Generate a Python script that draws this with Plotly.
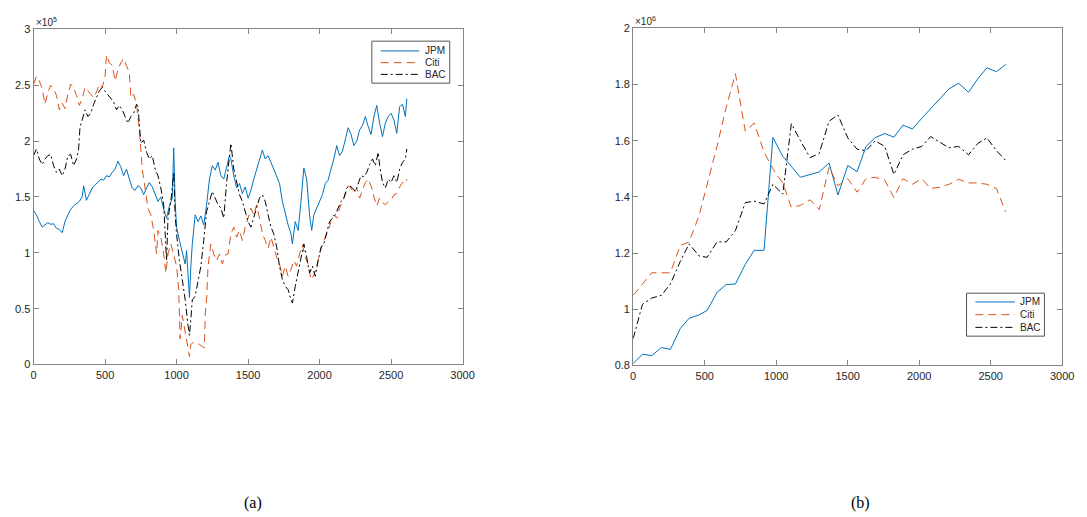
import plotly.graph_objects as go

# ---------------- Panel (a): daily values (x 1e5) ----------------
jpm_a_day = [0, 20, 40, 60, 80, 100, 120, 140, 160, 180, 200, 220, 240, 260, 280, 300, 320, 340, 350, 370,
             390, 410, 430, 450, 470, 490, 510, 530, 550, 570, 590, 610, 630, 650, 670, 690, 710, 730, 750, 770,
             790, 810, 830, 850, 870, 890, 910, 930, 950, 970, 980, 990, 1000, 1020, 1040, 1060, 1070, 1080, 1090, 1100,
             1110, 1130, 1150, 1170, 1190, 1210, 1230, 1250, 1270, 1290, 1310, 1330, 1350, 1370, 1380, 1400, 1420, 1440, 1460, 1480,
             1500, 1520, 1540, 1560, 1580, 1600, 1620, 1640, 1660, 1680, 1700, 1720, 1740, 1760, 1780, 1800, 1810, 1830, 1850, 1870,
             1890, 1910, 1930, 1945, 1960, 1980, 2000, 2020, 2040, 2060, 2080, 2100, 2120, 2140, 2160, 2180, 2200, 2220, 2240, 2260,
             2280, 2300, 2320, 2340, 2360, 2380, 2400, 2420, 2440, 2460, 2480, 2500, 2520, 2540, 2560, 2580, 2600, 2610]
jpm_a_val = [1.38, 1.34, 1.28, 1.23, 1.25, 1.27, 1.255, 1.26, 1.22, 1.21, 1.18, 1.28, 1.34, 1.39, 1.42, 1.44, 1.46, 1.50, 1.60, 1.47,
             1.53, 1.58, 1.61, 1.63, 1.66, 1.65, 1.69, 1.68, 1.72, 1.75, 1.82, 1.77, 1.69, 1.75, 1.66, 1.58, 1.56, 1.60, 1.58, 1.52,
             1.58, 1.63, 1.59, 1.52, 1.46, 1.50, 1.39, 1.31, 1.42, 1.49, 1.94, 1.46, 1.23, 1.11, 0.99, 0.90, 1.02, 0.82, 0.60, 0.88,
             1.08, 1.34, 1.28, 1.33, 1.25, 1.43, 1.66, 1.78, 1.74, 1.81, 1.69, 1.66, 1.78, 1.87, 1.84, 1.69, 1.58, 1.62, 1.53, 1.59,
             1.49, 1.56, 1.66, 1.75, 1.84, 1.92, 1.84, 1.87, 1.81, 1.75, 1.69, 1.62, 1.46, 1.34, 1.25, 1.17, 1.08, 1.28, 1.20, 1.46,
             1.76, 1.66, 1.34, 1.20, 1.34, 1.40, 1.46, 1.52, 1.62, 1.65, 1.75, 1.84, 1.96, 1.87, 1.91, 2.01, 2.12, 2.06, 1.96, 2.00,
             2.10, 2.14, 2.22, 2.13, 2.06, 2.22, 2.32, 2.16, 2.04, 2.16, 2.22, 2.25, 2.19, 2.07, 2.31, 2.33, 2.22, 2.38]

citi_a_day = [0, 20, 40, 60, 80, 100, 120, 140, 160, 180, 200, 220, 240, 260, 280, 300, 320, 340, 360, 380,
              400, 420, 440, 460, 480, 500, 510, 530, 550, 570, 590, 610, 630, 650, 670, 680, 700, 720, 740, 760,
              780, 800, 820, 840, 860, 870, 890, 910, 925, 940, 960, 980, 1000, 1015, 1025, 1040, 1060, 1080, 1090, 1100,
              1120, 1140, 1160, 1180, 1195, 1200, 1210, 1220, 1240, 1260, 1280, 1300, 1320, 1340, 1360, 1380, 1400, 1420, 1440, 1460,
              1480, 1500, 1520, 1540, 1560, 1580, 1600, 1620, 1640, 1660, 1680, 1700, 1720, 1740, 1760, 1780, 1800, 1820, 1840, 1860,
              1880, 1900, 1920, 1940, 1960, 1980, 2000, 2020, 2040, 2060, 2080, 2100, 2120, 2140, 2160, 2180, 2200, 2220, 2240, 2260,
              2280, 2300, 2320, 2340, 2360, 2380, 2400, 2420, 2440, 2460, 2480, 2500, 2520, 2540, 2560, 2580, 2600, 2610]
citi_a_val = [2.51, 2.58, 2.54, 2.47, 2.33, 2.44, 2.50, 2.47, 2.41, 2.28, 2.34, 2.29, 2.42, 2.51, 2.48, 2.41, 2.32, 2.38, 2.48, 2.45,
              2.42, 2.39, 2.44, 2.51, 2.48, 2.58, 2.77, 2.70, 2.68, 2.54, 2.64, 2.70, 2.74, 2.67, 2.61, 2.39, 2.42, 2.33, 2.10, 1.75,
              1.58, 1.40, 1.34, 1.20, 0.99, 1.20, 1.14, 0.99, 0.82, 0.99, 1.08, 0.99, 0.88, 0.67, 0.23, 0.44, 0.29, 0.12, 0.07, 0.18,
              0.20, 0.19, 0.18, 0.16, 0.15, 0.44, 0.58, 0.88, 1.08, 0.99, 0.93, 0.99, 0.90, 0.98, 0.99, 1.17, 1.23, 1.14, 1.20, 1.11,
              1.23, 1.31, 1.40, 1.34, 1.43, 1.31, 1.17, 1.11, 1.04, 1.14, 1.05, 0.96, 0.90, 0.79, 0.88, 0.79, 0.85, 0.93, 0.88, 0.99,
              1.07, 0.96, 0.90, 0.76, 0.80, 0.88, 0.99, 1.08, 1.14, 1.20, 1.28, 1.34, 1.31, 1.40, 1.46, 1.52, 1.60, 1.58, 1.53, 1.58,
              1.49, 1.56, 1.63, 1.66, 1.60, 1.50, 1.42, 1.49, 1.45, 1.43, 1.46, 1.47, 1.52, 1.53, 1.59, 1.63, 1.62, 1.66]

bac_a_day = [0, 20, 40, 60, 80, 100, 120, 140, 160, 180, 200, 220, 240, 260, 280, 300, 315, 325, 340, 360,
             380, 400, 420, 440, 460, 480, 500, 520, 540, 560, 580, 600, 620, 640, 660, 680, 700, 720, 730, 750,
             770, 790, 810, 830, 850, 870, 890, 910, 920, 930, 940, 960, 980, 990, 1000, 1020, 1040, 1060, 1080, 1090,
             1100, 1110, 1130, 1150, 1170, 1190, 1210, 1230, 1250, 1270, 1290, 1310, 1330, 1350, 1370, 1380, 1400, 1420, 1440, 1460,
             1480, 1500, 1520, 1540, 1560, 1580, 1600, 1620, 1640, 1660, 1680, 1700, 1720, 1740, 1760, 1780, 1800, 1810, 1830, 1850,
             1870, 1890, 1910, 1930, 1950, 1970, 1990, 2010, 2030, 2050, 2070, 2090, 2110, 2130, 2150, 2170, 2190, 2210, 2230, 2250,
             2270, 2290, 2310, 2330, 2350, 2370, 2390, 2410, 2420, 2440, 2460, 2480, 2500, 2520, 2540, 2560, 2580, 2600, 2610]
bac_a_val = [1.87, 1.93, 1.84, 1.79, 1.84, 1.87, 1.88, 1.78, 1.72, 1.75, 1.69, 1.75, 1.87, 1.88, 1.78, 1.84, 1.93, 2.13, 2.19, 2.28,
             2.22, 2.25, 2.33, 2.39, 2.45, 2.48, 2.45, 2.42, 2.39, 2.35, 2.28, 2.32, 2.28, 2.22, 2.16, 2.22, 2.25, 2.33, 2.31, 1.98,
             2.01, 1.90, 1.84, 1.87, 1.75, 1.69, 1.58, 1.43, 1.17, 0.93, 1.31, 1.46, 1.72, 1.34, 1.17, 0.93, 0.76, 0.58, 0.35, 0.26,
             0.41, 0.58, 0.61, 0.76, 0.88, 1.11, 1.37, 1.46, 1.55, 1.49, 1.43, 1.40, 1.31, 1.63, 1.90, 1.98, 1.75, 1.63, 1.52, 1.46,
             1.37, 1.28, 1.23, 1.31, 1.40, 1.49, 1.52, 1.46, 1.34, 1.23, 1.17, 1.05, 0.88, 0.76, 0.70, 0.67, 0.58, 0.55, 0.70, 0.82,
             0.96, 1.08, 0.96, 0.82, 0.88, 0.79, 0.93, 1.05, 1.08, 1.17, 1.28, 1.31, 1.34, 1.40, 1.46, 1.49, 1.58, 1.60, 1.58, 1.55,
             1.62, 1.69, 1.68, 1.72, 1.79, 1.84, 1.78, 1.90, 1.78, 1.63, 1.58, 1.66, 1.63, 1.69, 1.63, 1.75, 1.81, 1.84, 1.93]

# ---------------- Panel (b): sampled values (x 1e6) ----------------
days_b = [0, 65, 130, 198, 260, 329, 391, 460, 517, 586, 651, 715, 784, 846, 915, 977, 1046, 1106, 1170, 1237,
          1301, 1370, 1432, 1501, 1566, 1628, 1692, 1759, 1823, 1887, 1952, 2018, 2080, 2145, 2209, 2276, 2345, 2409, 2474, 2540, 2605]
jpm_b = [0.807, 0.84, 0.835, 0.864, 0.857, 0.931, 0.968, 0.98, 0.996, 1.06, 1.088, 1.09, 1.16, 1.21, 1.21, 1.612, 1.545, 1.51, 1.47, 1.48,
         1.489, 1.521, 1.407, 1.512, 1.49, 1.58, 1.611, 1.626, 1.613, 1.656, 1.642, 1.68, 1.715, 1.75, 1.785, 1.805, 1.773, 1.82, 1.86, 1.846, 1.872]
citi_b = [1.05, 1.09, 1.13, 1.13, 1.13, 1.227, 1.24, 1.332, 1.44, 1.58, 1.72, 1.839, 1.634, 1.663, 1.56, 1.50, 1.45, 1.363, 1.37, 1.39,
          1.355, 1.506, 1.44, 1.465, 1.417, 1.465, 1.47, 1.46, 1.398, 1.465, 1.445, 1.465, 1.43, 1.435, 1.445, 1.463, 1.45, 1.45, 1.445, 1.43, 1.347]
bac_b = [0.896, 1.018, 1.04, 1.05, 1.09, 1.17, 1.233, 1.19, 1.185, 1.24, 1.24, 1.28, 1.38, 1.385, 1.375, 1.445, 1.41, 1.661, 1.60, 1.54,
         1.555, 1.67, 1.692, 1.61, 1.57, 1.565, 1.60, 1.58, 1.48, 1.55, 1.57, 1.58, 1.615, 1.595, 1.575, 1.58, 1.55, 1.59, 1.61, 1.565, 1.53]

names = ["JPM", "Citi", "BAC"]
colors = ["#0072BD", "#D95319", "#000000"]
dashes = ["solid", "8px,5px", "7px,3px,2px,3px"]

W, H = 1087, 517
SANS = "Liberation Sans, Arial, sans-serif"
fig = go.Figure()

panel_a = [(jpm_a_day, jpm_a_val), (citi_a_day, citi_a_val), (bac_a_day, bac_a_val)]
for (xd, yd), n, c, d in zip(panel_a, names, colors, dashes):
    fig.add_trace(go.Scatter(x=xd, y=yd, name=n, mode="lines", line=dict(color=c, width=1, dash=d),
                             xaxis="x", yaxis="y", showlegend=False))
for yd, n, c, d in zip([jpm_b, citi_b, bac_b], names, colors, dashes):
    fig.add_trace(go.Scatter(x=days_b, y=yd, name=n, mode="lines", line=dict(color=c, width=1, dash=d),
                             xaxis="x2", yaxis="y2", showlegend=False))

axis_common = dict(showline=True, linecolor="#858585", linewidth=1, mirror="ticks", ticks="inside",
                   ticklen=5, tickcolor="#858585", showgrid=False, zeroline=False,
                   tickfont=dict(family=SANS, size=11, color="#262626"))


def px_x(p):
    return p / W


def px_y(p):
    return 1 - p / H


fig.update_layout(
    width=W, height=H, margin=dict(l=0, r=0, t=0, b=0),
    paper_bgcolor="white", plot_bgcolor="white",
    xaxis=dict(domain=[px_x(31), px_x(466)], range=[0, 3000], dtick=500, anchor="y", **axis_common),
    yaxis=dict(domain=[px_y(367), px_y(24)], range=[0, 3], dtick=0.5, anchor="x", **axis_common),
    xaxis2=dict(domain=[px_x(639), px_x(1074)], range=[0, 3000], dtick=500, anchor="y2", **axis_common),
    yaxis2=dict(domain=[px_y(368), px_y(23)], range=[0.8, 2.0], dtick=0.2, anchor="x2", **axis_common),
    showlegend=False,
)


def draw_legend(box, rows, line_x0, line_x1, text_x):
    x0, y0, x1, y1 = box
    fig.add_shape(type="rect", xref="paper", yref="paper",
                  x0=px_x(x0), x1=px_x(x1), y0=px_y(y1), y1=px_y(y0),
                  line=dict(color="#555555", width=1), fillcolor="white", layer="above")
    for yy, n, c, d in zip(rows, names, colors, dashes):
        fig.add_shape(type="line", xref="paper", yref="paper",
                      x0=px_x(line_x0), x1=px_x(line_x1), y0=px_y(yy), y1=px_y(yy),
                      line=dict(color=c, width=1, dash=d), layer="above")
        fig.add_annotation(x=px_x(text_x), y=px_y(yy), xref="paper", yref="paper", text=n,
                           showarrow=False, xanchor="left", yanchor="middle",
                           font=dict(family=SANS, size=10, color="#262626"))


draw_legend((374, 36, 453, 79), [46, 58, 70], 383, 422, 426)
draw_legend((977, 294, 1056, 338), [303, 316, 329], 986, 1026, 1029)

ann_font = dict(family=SANS, size=10, color="#262626")
fig.add_annotation(x=px_x(31), y=px_y(16), xref="paper", yref="paper", text="×10<sup>5</sup>",
                   showarrow=False, xanchor="left", yanchor="middle", font=ann_font)
fig.add_annotation(x=px_x(639), y=px_y(15), xref="paper", yref="paper", text="×10<sup>6</sup>",
                   showarrow=False, xanchor="left", yanchor="middle", font=ann_font)
cap_font = dict(family="Liberation Serif, Times New Roman, serif", size=16, color="#000000")
fig.add_annotation(x=px_x(254), y=px_y(509), xref="paper", yref="paper", text="(a)",
                   showarrow=False, xanchor="center", yanchor="middle", font=cap_font)
fig.add_annotation(x=px_x(870), y=px_y(509), xref="paper", yref="paper", text="(b)",
                   showarrow=False, xanchor="center", yanchor="middle", font=cap_font)

fig.write_html("out.html")
